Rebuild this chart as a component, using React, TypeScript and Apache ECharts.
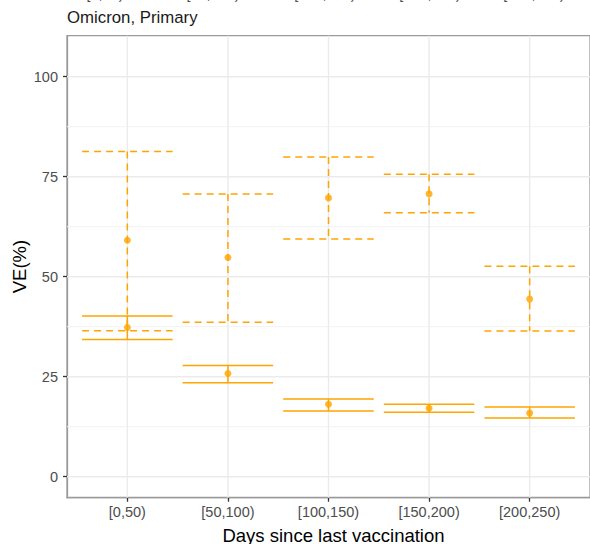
import React, { useEffect, useRef } from "react";
import * as echarts from "echarts";

// Time since last vaccination (days)
const categories = ["[0,50)", "[50,100)", "[100,150)", "[150,200)", "[200,250)"];

// Dashed interval: estimate with lower / upper bounds (VE %)
const dashedEstimate = [59.1, 54.8, 69.7, 70.7, 44.4];
const dashedLower = [36.5, 38.6, 59.4, 66.0, 36.4];
const dashedUpper = [81.3, 70.7, 79.9, 75.6, 52.6];

// Solid interval: estimate with lower / upper bounds (VE %)
const solidEstimate = [37.3, 25.8, 18.1, 17.1, 15.9];
const solidLower = [34.3, 23.5, 16.4, 16.1, 14.7];
const solidUpper = [40.2, 27.8, 19.4, 18.1, 17.4];

const yTicks = [0, 25, 50, 75, 100];
const yMinorTicks = [12.5, 37.5, 62.5, 87.5];
const xTicks = [0, 1, 2, 3, 4];

const ORANGE = "#FFA500";
const TICK_TEXT = "#4d4d4d";
const TICK_LINE = "#333333";
const BORDER = "#9a9a9a";
const FONT = "'Liberation Sans', Arial, Helvetica, sans-serif";

const Y_MIN = -5.25;
const Y_MAX = 110.25;
const X_MIN = -0.6;
const X_MAX = 4.6;
const HALF_WIDTH = 0.45;

function errorBarSeries(lower: number[], upper: number[], dashed: boolean) {
  return {
    type: "custom",
    data: lower.map((lo, i) => [i, lo, upper[i]]),
    encode: { x: 0, y: [1, 2] },
    z: 3,
    silent: true,
    renderItem: (_params: any, api: any) => {
      const x = api.value(0);
      const lo = api.value(1);
      const hi = api.value(2);
      const top = api.coord([x, hi]);
      const bottom = api.coord([x, lo]);
      const left = api.coord([x - HALF_WIDTH, hi])[0];
      const right = api.coord([x + HALF_WIDTH, hi])[0];
      const style = {
        stroke: ORANGE,
        lineWidth: 1.5,
        lineDash: dashed ? [7, 5] : null,
        fill: null,
      };
      return {
        type: "group",
        children: [
          { type: "line", shape: { x1: left, y1: top[1], x2: right, y2: top[1] }, style },
          { type: "line", shape: { x1: top[0], y1: top[1], x2: bottom[0], y2: bottom[1] }, style },
          { type: "line", shape: { x1: left, y1: bottom[1], x2: right, y2: bottom[1] }, style },
        ],
      };
    },
  };
}

// Panel grid lines drawn behind the data
const gridLineSeries = {
  type: "custom",
  data: [[0, 0]],
  encode: { x: 0, y: 1 },
  z: 1,
  silent: true,
  renderItem: (_params: any, api: any) => {
    const children: any[] = [];
    const x0 = api.coord([X_MIN, 0])[0];
    const x1 = api.coord([X_MAX, 0])[0];
    const yTop = api.coord([0, Y_MAX])[1];
    const yBot = api.coord([0, Y_MIN])[1];
    yMinorTicks.forEach((v) => {
      const y = api.coord([0, v])[1];
      children.push({
        type: "line",
        shape: { x1: x0, y1: y, x2: x1, y2: y },
        style: { stroke: "#f2f2f2", lineWidth: 1 },
      });
    });
    yTicks.forEach((v) => {
      const y = api.coord([0, v])[1];
      children.push({
        type: "line",
        shape: { x1: x0, y1: y, x2: x1, y2: y },
        style: { stroke: "#ebebeb", lineWidth: 1.4 },
      });
    });
    xTicks.forEach((v) => {
      const x = api.coord([v, 0])[0];
      children.push({
        type: "line",
        shape: { x1: x, y1: yTop, x2: x, y2: yBot },
        style: { stroke: "#ebebeb", lineWidth: 1.4 },
      });
    });
    return { type: "group", children };
  },
};

export default function App() {
  const ref = useRef<HTMLDivElement>(null);

  useEffect(() => {
    if (!ref.current) return;
    const chart = echarts.init(ref.current, null, { renderer: "svg" });

    // tick labels of the panel above, mostly outside the page
    const topLabelCenters = [105, 213, 325, 430, 534];

    chart.setOption({
      animation: false,
      backgroundColor: "#ffffff",
      textStyle: { fontFamily: FONT },
      grid: {
        left: 67,
        top: 35.7,
        width: 533,
        height: 462,
        show: true,
        borderColor: BORDER,
        borderWidth: 1.3,
        backgroundColor: "transparent",
      },
      xAxis: {
        type: "value",
        position: "bottom",
        min: X_MIN,
        max: X_MAX,
        axisLine: { show: true, onZero: false, lineStyle: { color: BORDER, width: 1.3 } },
        splitLine: { show: false },
        axisTick: {
          show: true,
          customValues: xTicks,
          length: 4,
          lineStyle: { color: TICK_LINE, width: 1.3 },
        },
        axisLabel: {
          customValues: xTicks,
          formatter: (v: number) => categories[Math.round(v)] ?? "",
          color: TICK_TEXT,
          fontSize: 14.5,
          fontFamily: FONT,
          margin: 7,
        },
      },
      yAxis: {
        type: "value",
        position: "left",
        min: Y_MIN,
        max: Y_MAX,
        axisLine: { show: true, onZero: false, lineStyle: { color: BORDER, width: 1.3 } },
        splitLine: { show: false },
        axisTick: {
          show: true,
          customValues: yTicks,
          length: 4,
          lineStyle: { color: TICK_LINE, width: 1.3 },
        },
        axisLabel: {
          customValues: yTicks,
          color: TICK_TEXT,
          fontSize: 14.5,
          fontFamily: FONT,
          margin: 9,
        },
      },
      graphic: [
        ...categories.map((c, i) => ({
          type: "text",
          x: topLabelCenters[i],
          y: 1.5,
          silent: true,
          style: {
            text: c,
            fill: TICK_TEXT,
            font: `14.5px ${FONT}`,
            align: "center",
            verticalAlign: "bottom",
          },
        })),
        {
          type: "text",
          x: 67,
          y: 17.5,
          style: {
            text: "Omicron, Primary",
            fill: "#1a1a1a",
            font: `16.8px ${FONT}`,
            align: "left",
            verticalAlign: "middle",
          },
        },
        {
          type: "text",
          x: 333.5,
          y: 535,
          style: {
            text: "Days since last vaccination",
            fill: "#000000",
            font: `18.5px ${FONT}`,
            align: "center",
            verticalAlign: "middle",
          },
        },
        {
          type: "text",
          x: 19,
          y: 266.5,
          rotation: Math.PI / 2,
          style: {
            text: "VE(%)",
            fill: "#000000",
            font: `18.5px ${FONT}`,
            align: "center",
            verticalAlign: "middle",
          },
        },
      ],
      series: [
        gridLineSeries,
        errorBarSeries(dashedLower, dashedUpper, true),
        errorBarSeries(solidLower, solidUpper, false),
        {
          type: "scatter",
          data: dashedEstimate.map((v, i) => [i, v]),
          symbol: "circle",
          symbolSize: 7,
          itemStyle: { color: ORANGE },
          z: 4,
          silent: true,
        },
        {
          type: "scatter",
          data: solidEstimate.map((v, i) => [i, v]),
          symbol: "circle",
          symbolSize: 7,
          itemStyle: { color: ORANGE },
          z: 4,
          silent: true,
        },
      ],
    });

    return () => chart.dispose();
  }, []);

  return (
    <div
      ref={ref}
      style={{ position: "absolute", left: 0, top: 0, width: 590, height: 544 }}
    />
  );
}
